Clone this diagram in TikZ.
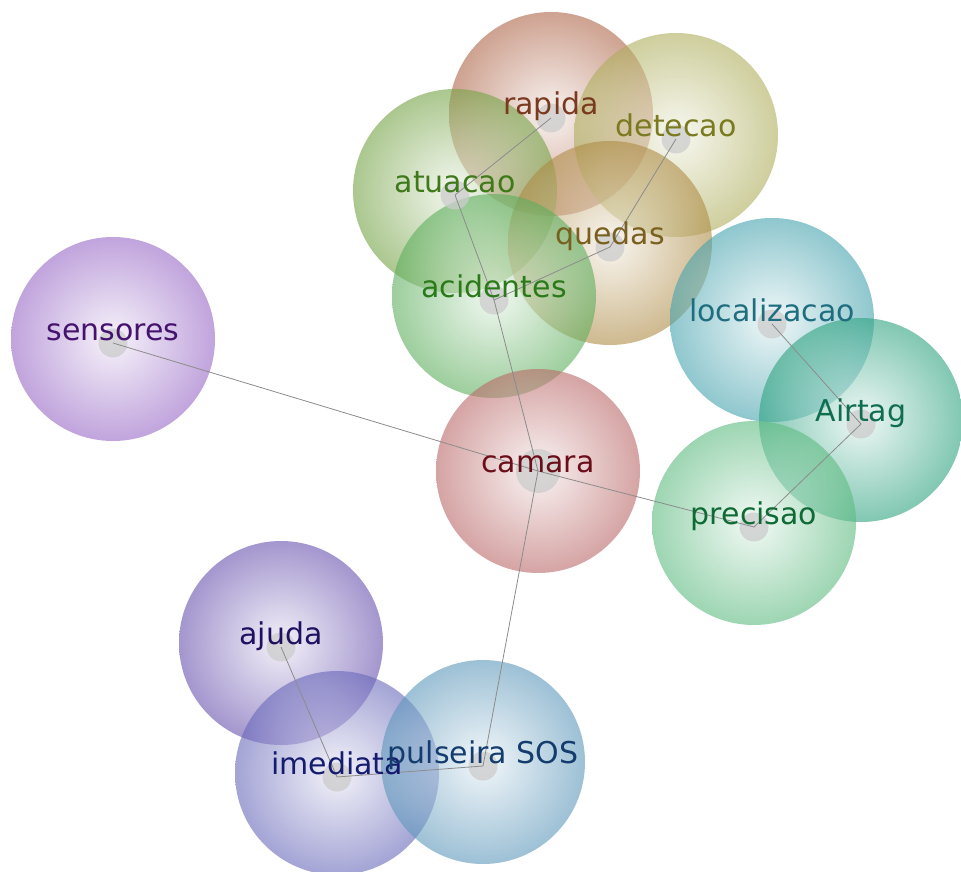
\documentclass[tikz,border=0pt]{standalone}
\usepackage{fontspec}
\setmainfont{DejaVu Sans}
\usepackage{tikz}

% bubble colours
\definecolor{rapidac}{RGB}{163,80,47}
\definecolor{detecaoc}{RGB}{163,163,70}
\definecolor{atuacaoc}{RGB}{97,150,43}
\definecolor{quedasc}{RGB}{163,123,43}
\definecolor{acidentesc}{RGB}{70,163,70}
\definecolor{sensoresc}{RGB}{137,83,190}
\definecolor{localizacaoc}{RGB}{43,150,163}
\definecolor{airtagc}{RGB}{17,150,110}
\definecolor{camarac}{RGB}{177,83,83}
\definecolor{precisaoc}{RGB}{70,177,110}
\definecolor{ajudac}{RGB}{83,57,163}
\definecolor{imediatac}{RGB}{83,83,177}
\definecolor{pulseirac}{RGB}{70,137,177}
% word colours
\definecolor{rapidat}{RGB}{122,58,32}
\definecolor{detecaot}{RGB}{122,122,32}
\definecolor{atuacaot}{RGB}{63,122,26}
\definecolor{quedast}{RGB}{122,96,32}
\definecolor{acidentest}{RGB}{42,122,26}
\definecolor{sensorest}{RGB}{69,19,110}
\definecolor{localizacaot}{RGB}{30,110,128}
\definecolor{airtagt}{RGB}{15,110,80}
\definecolor{camarat}{RGB}{106,15,26}
\definecolor{precisaot}{RGB}{15,106,53}
\definecolor{ajudat}{RGB}{32,16,96}
\definecolor{imediatat}{RGB}{21,28,112}
\definecolor{pulseirat}{RGB}{20,60,110}

\begin{document}
\begin{tikzpicture}[x=1pt,y=-1pt]
\tikzset{bubble/.style={circle,minimum size=204pt,inner sep=0pt,inner color=#1!12!white,outer color=#1!88!white,fill opacity=0.6}}
\tikzstyle{dot}=[circle,fill=black!20,fill opacity=0.75,minimum size=29pt,inner sep=0pt,yshift=-4pt]
\tikzstyle{word}=[anchor=base,inner sep=0pt,font=\fontsize{30}{36}\selectfont,yshift=-1pt]
\tikzstyle{link}=[draw=black!45,line width=0.8pt]

\fill[white] (0,0) rectangle (961,872);
\useasboundingbox (0,0) rectangle (961,872);

% bubbles
\node[bubble=rapidac] (rapida-b) at (551,114) {};
\node[bubble=detecaoc] (detecao-b) at (676,135) {};
\node[bubble=atuacaoc] (atuacao-b) at (455,191) {};
\node[bubble=quedasc] (quedas-b) at (610,243) {};
\node[bubble=acidentesc] (acidentes-b) at (494,296) {};
\node[bubble=sensoresc] (sensores-b) at (113,339) {};
\node[bubble=localizacaoc] (localizacao-b) at (772,320) {};
\node[bubble=airtagc] (airtag-b) at (861,420) {};
\node[bubble=camarac] (camara-b) at (538,471) {};
\node[bubble=precisaoc] (precisao-b) at (754,523) {};
\node[bubble=ajudac] (ajuda-b) at (281,643) {};
\node[bubble=imediatac] (imediata-b) at (337,773) {};
\node[bubble=pulseirac] (pulseira-b) at (483,762) {};

% centre dots
\node[dot] (rapida) at (rapida-b) {};
\node[dot] (detecao) at (detecao-b) {};
\node[dot] (atuacao) at (atuacao-b) {};
\node[dot] (quedas) at (quedas-b) {};
\node[dot] (acidentes) at (acidentes-b) {};
\node[dot] (sensores) at (sensores-b) {};
\node[dot] (localizacao) at (localizacao-b) {};
\node[dot] (airtag) at (airtag-b) {};
\node[dot,minimum size=44pt,yshift=4pt] (camara) at (camara-b) {};
\node[dot] (precisao) at (precisao-b) {};
\node[dot] (ajuda) at (ajuda-b) {};
\node[dot] (imediata) at (imediata-b) {};
\node[dot] (pulseira) at (pulseira-b) {};

% links
\draw[link] (rapida.center) -- (atuacao.center);
\draw[link] (atuacao.center) -- (acidentes.center);
\draw[link] (acidentes.center) -- (camara.center);
\draw[link] (detecao.center) -- (quedas.center);
\draw[link] (quedas.center) -- (acidentes.center);
\draw[link] (sensores.center) -- (camara.center);
\draw[link] (camara.center) -- (precisao.center);
\draw[link] (localizacao.center) -- (airtag.center);
\draw[link] (airtag.center) -- (precisao.center);
\draw[link] (camara.center) -- (pulseira.center);
\draw[link] (ajuda.center) -- (imediata.center);
\draw[link] (imediata.center) -- (pulseira.center);

% words
\node[word,text=rapidat] (rapida-t) at (rapida-b) {rapida};
\node[word,text=detecaot] (detecao-t) at (detecao-b) {detecao};
\node[word,text=atuacaot] (atuacao-t) at (atuacao-b) {atuacao};
\node[word,text=quedast] (quedas-t) at (quedas-b) {quedas};
\node[word,text=acidentest] (acidentes-t) at (acidentes-b) {acidentes};
\node[word,text=sensorest] (sensores-t) at (sensores-b) {sensores};
\node[word,text=localizacaot] (localizacao-t) at (localizacao-b) {localizacao};
\node[word,text=airtagt] (airtag-t) at (airtag-b) {Airtag};
\node[word,text=camarat] (camara-t) at (camara-b) {camara};
\node[word,text=precisaot] (precisao-t) at (precisao-b) {precisao};
\node[word,text=ajudat] (ajuda-t) at (ajuda-b) {ajuda};
\node[word,text=imediatat] (imediata-t) at (imediata-b) {imediata};
\node[word,text=pulseirat] (pulseira-t) at (pulseira-b) {pulseira SOS};
\end{tikzpicture}
\end{document}
